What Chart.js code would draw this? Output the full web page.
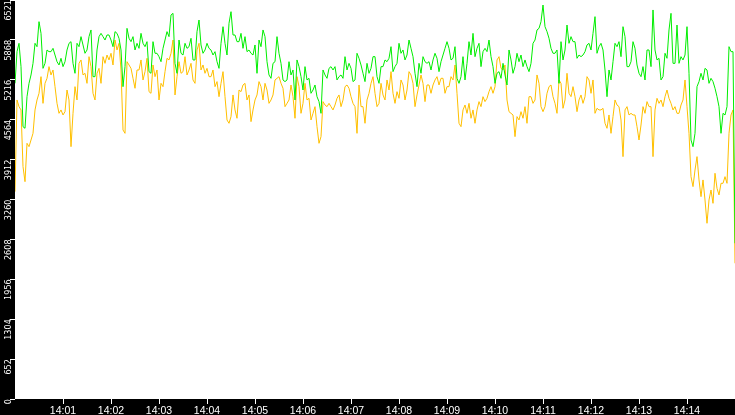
<!DOCTYPE html>
<html>
<head>
<meta charset="utf-8">
<script src="https://cdn.jsdelivr.net/npm/chart.js@4.4.0/dist/chart.umd.min.js"></script>
<style>
  html, body { margin: 0; padding: 0; background: #000; }
  canvas { display: block; }
</style>
</head>
<body>
<canvas id="myLineChart" width="735" height="415"></canvas>
<script>
// one sample every 2.5 seconds from 14:00:00 to 14:15:00
var stepSeconds = 2.5;

var greenValues = [
	5159,5677, 5813,5432, 4451,4424, 4941,5159, 5296,5486, 5813,5758, 6167,5976, 5404,5486, 5704,5677, 5677,5731, 5622,5513, 5459,5568, 5432,5513, 5704,5813, 5840,5486, 5323,5813, 5758,5922, 5786,5650, 5704,5922, 6031,5268, 5268,5704, 5922,5976, 5922,5867,
	5949,5949, 5867,5758, 6004,5976, 5895,5704, 5105,5432, 6058,5895, 5840,5922, 5704,5813, 5731,5976, 5813,5758, 5840,5350, 5323,5840, 5650,5650, 5595,5513, 5731,5867, 6004,5922, 6276,6303, 5486,5323, 5867,5650, 5622,5813, 5731,5758, 5895,5541,
	5541,6004, 6194,5786, 5650,5704, 5813,5731, 5704,5622, 5677,5513, 5404,5813, 6085,5813, 5622,6140, 6330,5949, 5949,5840, 5840,5976, 5731,5922, 5677,5704, 5650,5622, 5786,5323, 5867,5758, 6031,5922, 5513,5296, 5241,5486, 5513,5922, 5650,5486, 5214,5187,
	5214,5513, 5296,5377, 4887,5541, 5432,5268, 5050,5432, 5214,5241, 4996,5050, 5132,4941, 4860,4669, 5377,5296, 5241,5404, 5432,5377, 5432,5214, 5268,5296, 5241,5595, 5377,5486, 5404,5187, 5214,5650, 5568,5459, 5323,5187, 5486,5323, 5404,5595,
	5595,5268, 5159,5432, 5432,5541, 5513,5568, 5758,5350, 5432,5486, 5813,5650, 5704,5541, 5622,5867, 5731,5595, 5323,5105, 5486,5323, 5595,5513, 5486,5513, 5377,5541, 5650,5568, 5350,5513, 5622,5731, 5840,5731, 5541,5568, 5758,5241, 5159,5268, 5595,5214,
	5486,5840, 5622,5976, 5595,5731, 5813,5432, 5677,5731, 5677,5867, 5595,5432, 5159,5323, 5350,5241, 5486,5296, 5132,5704, 5541,5323, 5432,5650, 5513,5622, 5432,5541, 5432,5350, 5486,5813, 5867,6031, 6058,6167, 6439,6085, 6004,5895, 5731,5650,
	5650,5704, 5159,5840, 5541,5704, 6112,5813, 5922,5840, 5840,5568, 5622,5595, 5622,5677, 5786,5813, 5704,5976, 6249,5650, 5758,5813, 5704,5377, 4941,5377, 5214,5513, 5813,5758, 5840,5595, 6085,5922, 5432,5432, 5513,5840, 5731,5459, 5323,5268, 5432,5214,
	5704,5704, 5432,6358, 5704,5541, 5568,5214, 5268,5650, 5568,6031, 6303,5486, 5486,6112, 5486,5595, 5541,5622, 6085,5323, 4233,4124, 4342,5105, 5187,5323, 5214,5404, 5377,5159, 5241,5187, 5078,4941, 4778,4342, 4669,4642, 4778,5758, 5677,5677, 2545
];

var orangeValues = [
	3389,4887, 4778,4724, 3798,3552, 4179,4124, 4233,4342, 4724,4887, 4996,5268, 4832,5159, 5241,5432, 5296,5377, 5105,4832, 4669,4724, 4642,4696, 5050,4887, 4124,4669, 5105,4887, 5486,5541, 5296,5323, 5159,5595, 5432,4996, 4887,5323, 5404,5159, 5595,5486,
	5622,5541, 5650,5459, 5867,5704, 5813,5377, 4397,4342, 5513,5459, 5404,5241, 5078,5377, 5377,5541, 5214,5350, 5568,5023, 4996,5459, 5268,5377, 4887,5159, 5105,5350, 5568,5541, 5650,5867, 4969,5268, 5513,5323, 5350,5595, 5296,5377, 5486,5214,
	5159,5704, 5813,5377, 5459,5323, 5404,5268, 5268,5377, 5105,5187, 4941,5159, 5350,4941, 4560,4506, 4615,4969, 4724,4588, 5050,5023, 5132,5159, 4887,4969, 4533,4724, 4887,4969, 5187,5105, 4887,5159, 5050,4832, 4887,4969, 5214,5241, 5268,5159, 5078,4778,
	4832,4887, 5132,4941, 4588,5268, 5105,4669, 4832,5159, 4887,4914, 4560,4669, 4778,4451, 4179,4288, 4860,4805, 4778,4832, 4778,4724, 4805,4914, 4969,4778, 4887,5105, 5132,5078, 4941,4832, 4778,4342, 5132,4778, 4778,4506, 4887,4996, 5159,5268,
	4996,4778, 4832,5159, 4969,4887, 5214,5050, 5350,4996, 4832,5023, 4914,5214, 5132,4887, 5050,5350, 5296,5159, 4778,4969, 5132,5296, 5159,4860, 5132,5132, 4996,5132, 5214,5268, 5132,5241, 5241,4996, 5105,5105, 5268,5214, 5459,4996, 4506,4451, 4724,4805,
	4669,4832, 4588,4724, 4506,4724, 4860,4778, 4941,4860, 4914,5023, 5105,4996, 5105,5541, 5595,5404, 5377,5459, 4887,4696, 4669,4642, 4288,4615, 4560,4696, 4588,4778, 4506,4941, 4941,4832, 4887,5296, 5159,4778, 4696,4778, 4996,5105, 5132,4941,
	4832,4669, 5214,5159, 4751,4887, 5323,4996, 4941,5105, 4941,4696, 4887,4969, 4832,4941, 5268,5214, 4996,5214, 4669,4751, 4724,4724, 4751,4506, 4424,4642, 4342,4615, 4887,4805, 4778,4560, 3961,4724, 4778,4642, 4669,4642, 4642,4451, 4233,4478, 4778,4669,
	4860,4778, 4778,3961, 4724,4914, 4832,4887, 4778,4941, 5050,4914, 4832,4724, 4778,4669, 4669,4805, 4887,5214, 4778,4342, 3634,3471, 3743,3961, 3580,3307, 3580,3253, 2872,3253, 3416,3198, 3689,3443, 3335,3525, 3525,3634, 3525,4342, 4642,4724, 2218
];

var yTicks = [0, 652, 1304, 1956, 2608, 3260, 3912, 4564, 5216, 5868, 6521];
var xTicks = ['14:01', '14:02', '14:03', '14:04', '14:05', '14:06', '14:07',
	'14:08', '14:09', '14:10', '14:11', '14:12', '14:13', '14:14'];

function toPoints(values) {
	return values.map(function (v, i) {
		return { x: i * stepSeconds, y: v };
	});
}

function secondsOf(label) {
	var parts = label.split(':');
	return (parseInt(parts[0], 10) - 14) * 3600 + parseInt(parts[1], 10) * 60;
}

// black frame, white plot area
var backgroundPlugin = {
	id: 'background',
	beforeDraw: function (chart) {
		var c = chart.ctx, a = chart.chartArea;
		c.save();
		c.fillStyle = '#000';
		c.fillRect(0, 0, chart.width, chart.height);
		c.fillStyle = '#fff';
		c.fillRect(a.left, a.top, a.right - a.left, a.bottom - a.top);
		c.restore();
	}
};

var ctx = document.getElementById('myLineChart').getContext('2d');
var myLineChart = new Chart(ctx, {
	type: 'line',
	data: {
		datasets: [{
			label: 'green',
			borderColor: '#00ee00',
			borderWidth: 1,
			pointRadius: 0,
			tension: 0,
			fill: false,
			data: toPoints(greenValues)
		}, {
			label: 'orange',
			borderColor: '#ffc000',
			borderWidth: 1,
			pointRadius: 0,
			tension: 0,
			fill: false,
			data: toPoints(orangeValues)
		}]
	},
	plugins: [backgroundPlugin],
	options: {
		responsive: false,
		animation: false,
		devicePixelRatio: 1,
		layout: { padding: 0 },
		plugins: {
			legend: { display: false },
			tooltip: { enabled: false }
		},
		scales: {
			x: {
				type: 'linear',
				min: 0,
				max: 900,
				afterBuildTicks: function (scale) {
					scale.ticks = xTicks.map(function (t) { return { value: secondsOf(t), label: t }; });
				},
				afterFit: function (scale) {
					scale.height = 16;
					scale.paddingLeft = 0;
					scale.paddingRight = 0;
				},
				border: { display: false },
				grid: { drawOnChartArea: false, drawTicks: true, tickLength: 5, color: '#fff' },
				ticks: {
					color: '#fff',
					padding: 1,
					maxRotation: 0,
					autoSkip: false,
					font: { family: 'Liberation Sans', size: 10.5 },
					callback: function (value) {
						var i = xTicks.map(secondsOf).indexOf(value);
						return i >= 0 ? xTicks[i] : '';
					}
				}
			},
			y: {
				min: 0,
				max: 6521,
				afterBuildTicks: function (scale) {
					scale.ticks = yTicks.map(function (v) { return { value: v }; });
				},
				afterFit: function (scale) {
					scale.width = 15;
					scale.paddingTop = 0;
					scale.paddingBottom = 0;
				},
				border: { display: false },
				grid: { drawOnChartArea: false, drawTicks: true, tickLength: 5, color: '#fff' },
				ticks: {
					color: '#fff',
					padding: 1,
					minRotation: 90,
					maxRotation: 90,
					autoSkip: false,
					font: { family: "'Liberation Sans Narrow', 'DejaVu Sans Condensed', sans-serif", size: 9 },
					callback: function (value) { return String(value); }
				}
			}
		}
	}
});
</script>
</body>
</html>
